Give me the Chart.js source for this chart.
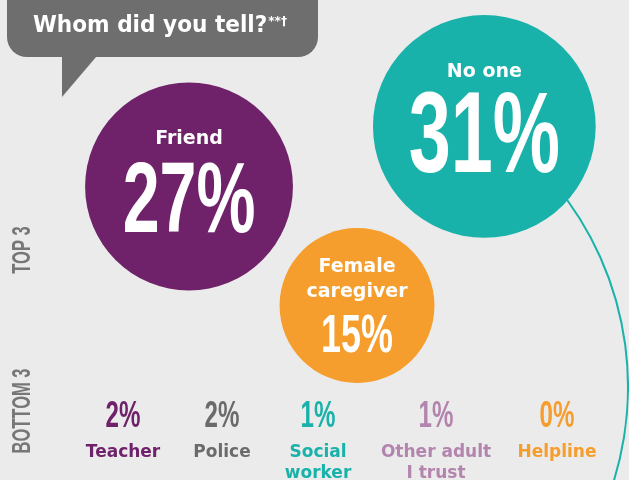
<!DOCTYPE html>
<html>
<head>
<meta charset="utf-8">
<script src="https://cdn.jsdelivr.net/npm/chart.js@4.4.1/dist/chart.umd.min.js"></script>
<style>
    html, body { margin: 0; padding: 0; background: #ebebeb; }
    #wrap { width: 629px; height: 480px; position: relative; }
</style>
</head>
<body>
<div id="wrap"><canvas id="canvas-told"></canvas></div>
<script>
// ------------------------------------------------------------
// Whom did you tell? - top 3 as bubbles, bottom row as figures
// ------------------------------------------------------------
const titleText = "Whom did you tell?";
const titleMark = "**†";

const topLabels = [["No one"], ["Friend"], ["Female", "caregiver"]];
const topValues = [31, 27, 15];
const topColors = ['#19b2ab', '#6f226a', '#f59d2d'];

const bottomLabels = [["Teacher"], ["Police"], ["Social", "worker"], ["Other adult", "I trust"], ["Helpline"]];
const bottomValues = [2, 2, 1, 1, 0];
const bottomColors = ['#6f226a', '#6b6b6b', '#19b2ab', '#b284ae', '#f59d2d'];

const sideLabels = ["TOP 3", "BOTTOM 3"];

// placement on a 0-100 grid (x left->right, y top->bottom)
const topPlace = [[77.0, 26.35], [30.05, 38.85], [56.76, 63.65]];
const bottomPlace = [19.56, 35.29, 50.56, 69.32, 88.55];
const bottomRowY = 88.96;

// text sizing inside each bubble
const bubbleText = [
    { numSize: 114.5, numDy: 45.5, labelDy: -49.5 },
    { numSize: 100.5, numDy: 45.5, labelDy: -42.5 },
    { numSize: 54.5, numDy: 46.5, labelDy: -33.5 }
];

const bubbleScale = 20; // radius = k * sqrt(percent)

function condensedText(ctx, text, x, y, size, color, squeeze) {
    ctx.save();
    ctx.translate(x, y);
    ctx.scale(squeeze, 1);
    ctx.font = 'bold ' + size + 'px "Liberation Sans", Arial, sans-serif';
    ctx.fillStyle = color;
    ctx.textAlign = 'center';
    ctx.textBaseline = 'alphabetic';
    ctx.fillText(text, 0, 0);
    ctx.restore();
}

const decorPlugin = {
    id: 'decor',
    beforeDatasetsDraw(chart) {
        const ctx = chart.ctx;
        ctx.save();

        // speech bubble with the question
        ctx.fillStyle = '#6e6e6e';
        ctx.beginPath();
        ctx.roundRect(7, -20, 311, 77, 20);
        ctx.fill();
        ctx.beginPath();
        ctx.moveTo(62, 50);
        ctx.lineTo(102, 50);
        ctx.lineTo(62, 97);
        ctx.closePath();
        ctx.fill();

        ctx.save();
        ctx.translate(33, 32);
        ctx.scale(0.94, 1);
        ctx.font = 'bold 23px "DejaVu Sans", sans-serif';
        ctx.fillStyle = '#ffffff';
        ctx.textAlign = 'left';
        ctx.textBaseline = 'alphabetic';
        ctx.fillText(titleText, 0, 0);
        const w = ctx.measureText(titleText).width;
        ctx.font = 'bold 13px "DejaVu Sans", sans-serif';
        ctx.fillText(titleMark, w + 1, -7);
        ctx.restore();

        // rotated side labels
        const sideY = [250, 411];
        sideLabels.forEach((s, i) => {
            ctx.save();
            ctx.translate(22, sideY[i]);
            ctx.rotate(-Math.PI / 2);
            ctx.scale(0.66, 1);
            ctx.font = 'bold 25px "Liberation Sans", Arial, sans-serif';
            ctx.fillStyle = '#777777';
            ctx.textAlign = 'center';
            ctx.textBaseline = 'middle';
            ctx.fillText(s, 0, 1);
            ctx.restore();
        });

        // teal arc trailing out of the "No one" bubble
        ctx.strokeStyle = topColors[0];
        ctx.lineWidth = 2;
        ctx.beginPath();
        ctx.arc(310, 387, 318, -40 * Math.PI / 180, 25 * Math.PI / 180);
        ctx.stroke();

        ctx.restore();
    },
    afterDatasetsDraw(chart) {
        const ctx = chart.ctx;
        ctx.save();

        // labels and figures inside the bubbles
        chart.getDatasetMeta(0).data.forEach((pt, i) => {
            const t = bubbleText[i];
            ctx.font = 'bold 19px "DejaVu Sans", sans-serif';
            ctx.fillStyle = '#ffffff';
            ctx.textAlign = 'center';
            ctx.textBaseline = 'alphabetic';
            topLabels[i].forEach((line, j) => {
                ctx.fillText(line, pt.x, pt.y + t.labelDy + j * 25);
            });
            condensedText(ctx, topValues[i] + '%', pt.x, pt.y + t.numDy, t.numSize, '#ffffff', 0.66);
        });

        // bottom row
        chart.getDatasetMeta(1).data.forEach((pt, i) => {
            condensedText(ctx, bottomValues[i] + '%', pt.x, pt.y, 37.7, bottomColors[i], 0.64);
            ctx.font = 'bold 17px "DejaVu Sans", sans-serif';
            ctx.fillStyle = bottomColors[i];
            ctx.textAlign = 'center';
            ctx.textBaseline = 'alphabetic';
            bottomLabels[i].forEach((line, j) => {
                ctx.fillText(line, pt.x, pt.y + 30 + j * 21);
            });
        });

        ctx.restore();
    }
};

const ctxTold = document.getElementById('canvas-told');
const chartTold = new Chart(ctxTold.getContext('2d'), {
    type: 'bubble',
    data: {
        datasets: [{
            label: 'Top 3',
            data: topValues.map((v, i) => ({ x: topPlace[i][0], y: topPlace[i][1], r: bubbleScale * Math.sqrt(v) })),
            backgroundColor: topColors,
            borderWidth: 0,
            clip: false
        }, {
            label: 'Bottom',
            data: bottomValues.map((v, i) => ({ x: bottomPlace[i], y: bottomRowY, r: 0 })),
            backgroundColor: bottomColors,
            borderWidth: 0,
            clip: false
        }]
    },
    options: {
        responsive: true,
        maintainAspectRatio: false,
        animation: false,
        events: [],
        layout: { padding: 0, autoPadding: false },
        plugins: { legend: { display: false }, tooltip: { enabled: false } },
        scales: {
            x: { type: 'linear', min: 0, max: 100, display: false },
            y: { type: 'linear', min: 0, max: 100, reverse: true, display: false }
        }
    },
    plugins: [decorPlugin]
});
</script>
</body>
</html>
